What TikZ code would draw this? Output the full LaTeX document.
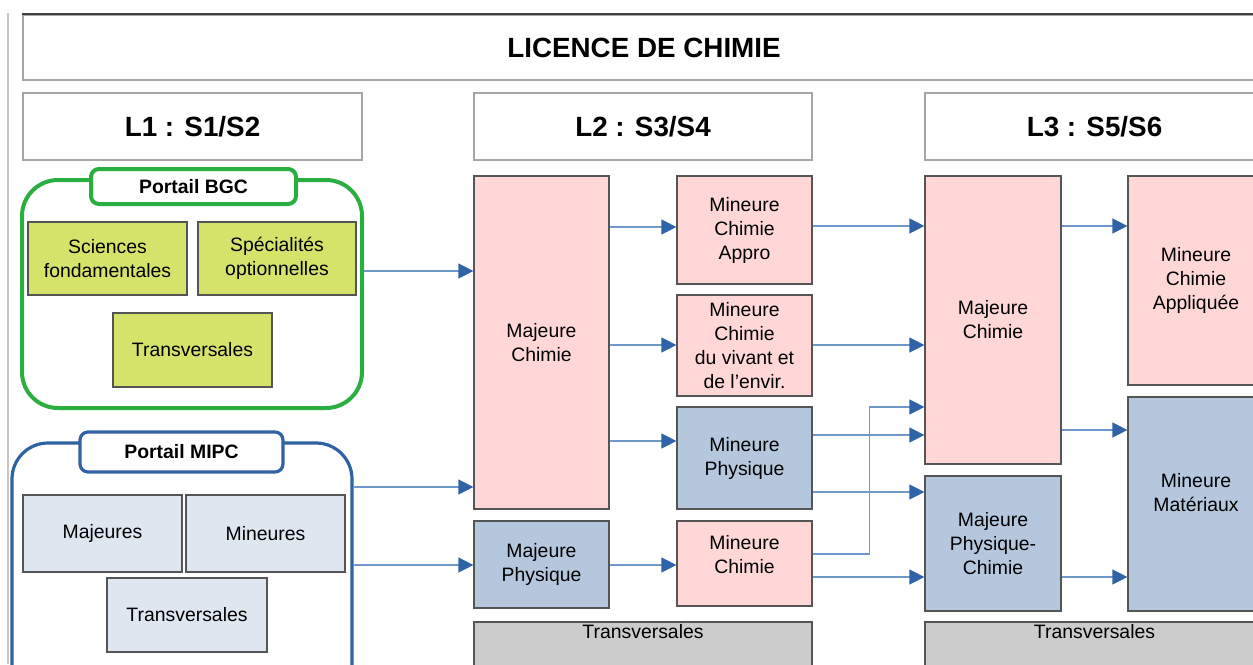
\documentclass[tikz,border=0pt]{standalone}
\usepackage{fontspec}
\setmainfont{Liberation Sans}
\usetikzlibrary {arrows.meta, positioning}
\definecolor{chimpink}{HTML}{FFD7D7}
\definecolor{physblue}{HTML}{B4C7DC}
\definecolor{paleblue}{HTML}{DEE6EF}
\definecolor{limefill}{HTML}{D6E36A}
\definecolor{bgcgreen}{HTML}{2AAE3F}
\definecolor{mipcblue}{HTML}{2F62A2}
\definecolor{linkblue}{HTML}{7098CB}
\definecolor{tipblue}{HTML}{2F63A8}
\definecolor{edgegray}{HTML}{555555}
\tikzset{
    >={Latex},
    sz/.style 2 args={minimum width=#1*0.5pt, minimum height=#2*0.5pt},
    txt/.style={align=center, inner sep=0pt, font=\fontsize{9.7}{12}\selectfont},
    box/.style={txt, draw=edgegray, line width=0.6pt},
    head/.style={draw=gray!70, line width=0.7pt, fill=white, inner sep=0pt,
        font=\bfseries\fontsize{13.9}{16}\selectfont},
    chim/.style={box, fill=chimpink},
    phys/.style={box, fill=physblue},
    bgcbox/.style={box, fill=limefill},
    mipcbox/.style={box, fill=paleblue},
    transbox/.style={box, fill=gray!40},
    portail/.style={rounded corners=18pt, inner sep=0pt},
    tag/.style={fill=white, rounded corners=4pt, inner sep=0pt,
        font=\bfseries\fontsize{9.7}{12}\selectfont},
    arr/.style={draw=linkblue, line width=0.6pt,
        -{Triangle[length=7.5pt, width=7.5pt, color=tipblue]}}
}
\begin{document}
\begin{tikzpicture}[x=0.5pt, y=-0.5pt]
    \useasboundingbox (0,0) rectangle (1253,664);
    \clip (0,0) rectangle (1253,664);
    % page edge
    \draw[gray!45, line width=0.8pt] (8,13) -- (8,664);
    % headers
    \node[head, sz={1242}{65}] (title) at (644,47.5) {LICENCE DE CHIMIE};
    \draw[black!75, line width=0.9pt] (title.north west) -- (title.north east);
    \node[head, sz={339}{67}] (l1) at (192.5,126.5) {L1 : S1/S2};
    \node[head, sz={338}{67}] (l2) at (643,126.5) {L2 : S3/S4};
    \node[head, sz={339}{67}] (l3) at (1094.5,126.5) {L3 : S5/S6};
    % portail BGC
    \node[portail, draw=bgcgreen, line width=2pt, sz={340}{228}] (bgc) at (192,294) {};
    \node[tag, draw=bgcgreen, line width=2pt, sz={205}{35}] (bgctag) at (193.5,186.5) {Portail BGC};
    \node[bgcbox, sz={159}{73}] (sci) at (107.5,258.5) {Sciences\\fondamentales};
    \node[bgcbox, sz={158}{73}] (spe) at (277,258.5) {Spécialités\\optionnelles};
    \node[bgcbox, sz={159}{74}] (trbgc) at (192.5,350) {Transversales};
    % portail MIPC
    \node[portail, draw=mipcblue, line width=1.6pt, sz={340}{257}] (mipc) at (182,571.5) {};
    \node[tag, draw=mipcblue, line width=1.6pt, sz={203}{40}] (mipctag) at (181.5,452) {Portail MIPC};
    \node[mipcbox, sz={159}{77}] (maj) at (102.5,533.5) {Majeures};
    \node[mipcbox, sz={159}{77}] (mineu) at (265.5,533.5) {Mineures};
    \node[mipcbox, sz={160}{74}] (trmipc) at (187,615) {Transversales};
    % L2
    \node[chim, sz={135}{333}] (majc2) at (541.5,342.5) {Majeure\\Chimie};
    \node[chim, sz={135}{108}] (appro) at (744.5,230) {Mineure\\Chimie\\Appro};
    \node[chim, sz={135}{101}] (vivant) at (744.5,345.5) {Mineure\\Chimie\\du vivant et\\de l’envir.};
    \node[phys, sz={135}{102}] (minp2) at (744.5,458) {Mineure\\Physique};
    \node[phys, sz={135}{87}] (majp2) at (541.5,564.5) {Majeure\\Physique};
    \node[chim, sz={135}{85}, label={[txt, yshift=4.5pt]center:Mineure\\Chimie}]
        (minc2) at (744.5,563.5) {};
    \node[transbox, sz={338}{78}, label={[txt, anchor=north, yshift=-1.5pt]north:Transversales}]
        (trans2) at (643,661) {};
    % L3
    \node[chim, sz={136}{288}] (majc3) at (993,320) {Majeure\\Chimie};
    \node[phys, sz={136}{135}] (majpc3) at (993,543.5) {Majeure\\Physique-\\Chimie};
    \node[chim, sz={136}{209}] (appl3) at (1196,280.5) {Mineure\\Chimie\\Appliquée};
    \node[phys, sz={136}{214}, label={[txt, yshift=5.5pt]center:Mineure\\Matériaux}]
        (mat3) at (1196,504) {};
    \node[transbox, sz={339}{78}, label={[txt, anchor=north, yshift=-1.5pt]north:Transversales}]
        (trans3) at (1094.5,661) {};
    % links
    \foreach \from/\to/\y in {bgc/majc2/271, mipc/majc2/487, mipc/majp2/565,
            majc2/appro/227, majc2/vivant/345, majc2/minp2/441, majp2/minc2/565,
            appro/majc3/226, vivant/majc3/345, minp2/majc3/435, minp2/majpc3/492,
            minc2/majpc3/577, majc3/appl3/226, majc3/mat3/430, majpc3/mat3/577}{
        \draw[arr] (\from.east |- 0,\y) -- (\to.west |- 0,\y);
    }
    \draw[arr] (minc2.east |- 0,554) -- ++(57,0) |- (majc3.west |- 0,407);
\end{tikzpicture}
\end{document}
